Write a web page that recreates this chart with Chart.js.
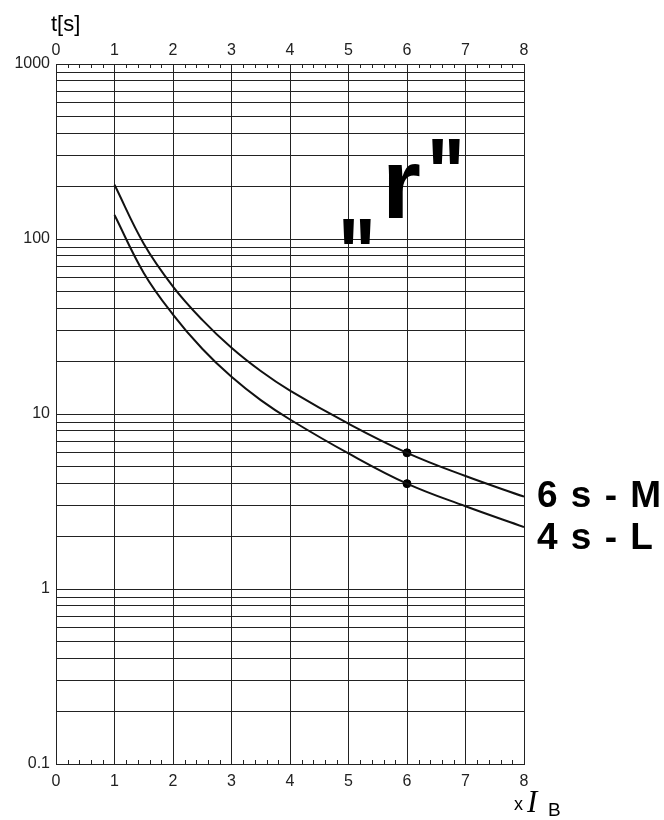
<!DOCTYPE html>
<html>
<head>
<meta charset="utf-8">
<script src="https://cdn.jsdelivr.net/npm/chart.js@4"></script>
<style>
  body { margin: 0; background: #fff; }
  #wrap { width: 664px; height: 820px; }
</style>
</head>
<body>
<div id="wrap"><canvas id="chart" width="664" height="820"></canvas></div>
<script>
// Tripping curves, class "r" (x I_B vs t[s])
const xValues = [1, 1.5, 2, 2.5, 3, 3.5, 4, 5, 6, 7, 8];
const curveM = [204, 94, 53.5, 34.5, 23.9, 17.6, 13.6, 8.8, 6, 4.42, 3.37];
const curveL = [137, 64, 37, 23.6, 16.3, 12, 9.3, 5.95, 4, 2.97, 2.26];
const markX = [6, 6];
const markY = [6, 4];

const xTicks = [0, 1, 2, 3, 4, 5, 6, 7, 8];
const xMinor = [0.2, 0.4, 0.6, 0.8];
const yLabels = [0.1, 1, 10, 100, 1000];

// all grid lines 1..9 per decade
let yGrid = [];
yLabels.slice(0, 4).forEach(d => {
    for (let m = 1; m < 10; m++) yGrid.push(+(m * d).toPrecision(3));
});
yGrid.push(1000);

const FONT = "'Liberation Sans', Arial, sans-serif";
const INK = '#222';

const extras = {
    id: 'extras',
    afterDraw(chart) {
        const ctx = chart.ctx;
        const xs = chart.scales.x;
        const ys = chart.scales.y;
        const top = ys.getPixelForValue(1000);
        const bottom = ys.getPixelForValue(0.1);

        // small inward ticks on top and bottom edges
        ctx.save();
        ctx.strokeStyle = INK;
        ctx.lineWidth = 1;
        ctx.beginPath();
        for (let i = 0; i < 8; i++) {
            xMinor.forEach(m => {
                const px = Math.round(xs.getPixelForValue(i + m)) + 0.5;
                ctx.moveTo(px, top); ctx.lineTo(px, top + 4);
                ctx.moveTo(px, bottom); ctx.lineTo(px, bottom - 4);
            });
        }
        ctx.stroke();

        ctx.fillStyle = '#000';
        ctx.textAlign = 'left';
        ctx.textBaseline = 'alphabetic';

        // axis titles
        ctx.font = '22px ' + FONT;
        ctx.fillText('t[s]', 51, 31);
        ctx.font = '18px ' + FONT;
        ctx.fillText('x', 514, 810);
        ctx.font = "italic 31px 'Liberation Serif', serif";
        ctx.fillText('I', 527, 812);
        ctx.font = '19px ' + FONT;
        ctx.fillText('B', 548, 816);

        // curve labels
        ctx.font = 'bold 37px ' + FONT;
        ctx.letterSpacing = '1.5px';
        ctx.fillText('6 s - M', 537, 507);
        ctx.fillText('4 s - L', 537, 549);
        ctx.letterSpacing = '0px';

        // class label „r"
        ctx.font = 'bold 100px ' + FONT;
        ctx.fillText('r', 382, 218);
        ctx.save();
        ctx.scale(0.8, 1);
        ctx.fillText('"', 338 / 0.8, 288);
        ctx.fillText('"', 427 / 0.8, 208);
        ctx.restore();
        ctx.restore();
    }
};

const xAxisCommon = {
    type: 'linear',
    min: 0,
    max: 8,
    afterBuildTicks: s => { s.ticks = xTicks.map(v => ({ value: v })); },
    ticks: { color: INK, font: { family: FONT, size: 16 }, autoSkip: false, maxRotation: 0 },
    border: { color: INK, width: 1 }
};

new Chart(document.getElementById('chart'), {
    type: 'line',
    data: {
        datasets: [
            {
                label: '6 s - M',
                data: xValues.map((x, i) => ({ x: x, y: curveM[i] })),
                borderColor: '#111',
                borderWidth: 2,
                pointRadius: 0,
                tension: 0.4
            },
            {
                label: '4 s - L',
                data: xValues.map((x, i) => ({ x: x, y: curveL[i] })),
                borderColor: '#111',
                borderWidth: 2,
                pointRadius: 0,
                tension: 0.4
            },
            {
                label: 'marks',
                data: markX.map((x, i) => ({ x: x, y: markY[i] })),
                showLine: false,
                pointRadius: 4,
                pointBackgroundColor: '#000',
                pointBorderColor: '#000'
            }
        ]
    },
    options: {
        responsive: false,
        animation: false,
        layout: { padding: { left: 0, right: 140, top: 0, bottom: 0 } },
        plugins: { legend: { display: false }, tooltip: { enabled: false } },
        scales: {
            x: Object.assign({}, xAxisCommon, {
                position: 'bottom',
                grid: { color: INK, lineWidth: 1, drawTicks: false },
                ticks: Object.assign({}, xAxisCommon.ticks, { padding: 8 }),
                afterFit: s => { s.height = 56; }
            }),
            x2: Object.assign({}, xAxisCommon, {
                position: 'top',
                grid: { display: false, drawTicks: false },
                ticks: Object.assign({}, xAxisCommon.ticks, { padding: 4 }),
                afterFit: s => { s.height = 64; }
            }),
            y: {
                type: 'logarithmic',
                min: 0.1,
                max: 1000,
                afterBuildTicks: s => { s.ticks = yGrid.map(v => ({ value: v })); },
                grid: { color: INK, lineWidth: 1, drawTicks: false },
                border: { color: INK, width: 1 },
                ticks: {
                    color: INK,
                    font: { family: FONT, size: 16 },
                    padding: 6,
                    autoSkip: false,
                    callback: v => yLabels.includes(v) ? String(v) : ''
                },
                afterFit: s => { s.width = 56; }
            }
        }
    },
    plugins: [extras]
});
</script>
</body>
</html>
